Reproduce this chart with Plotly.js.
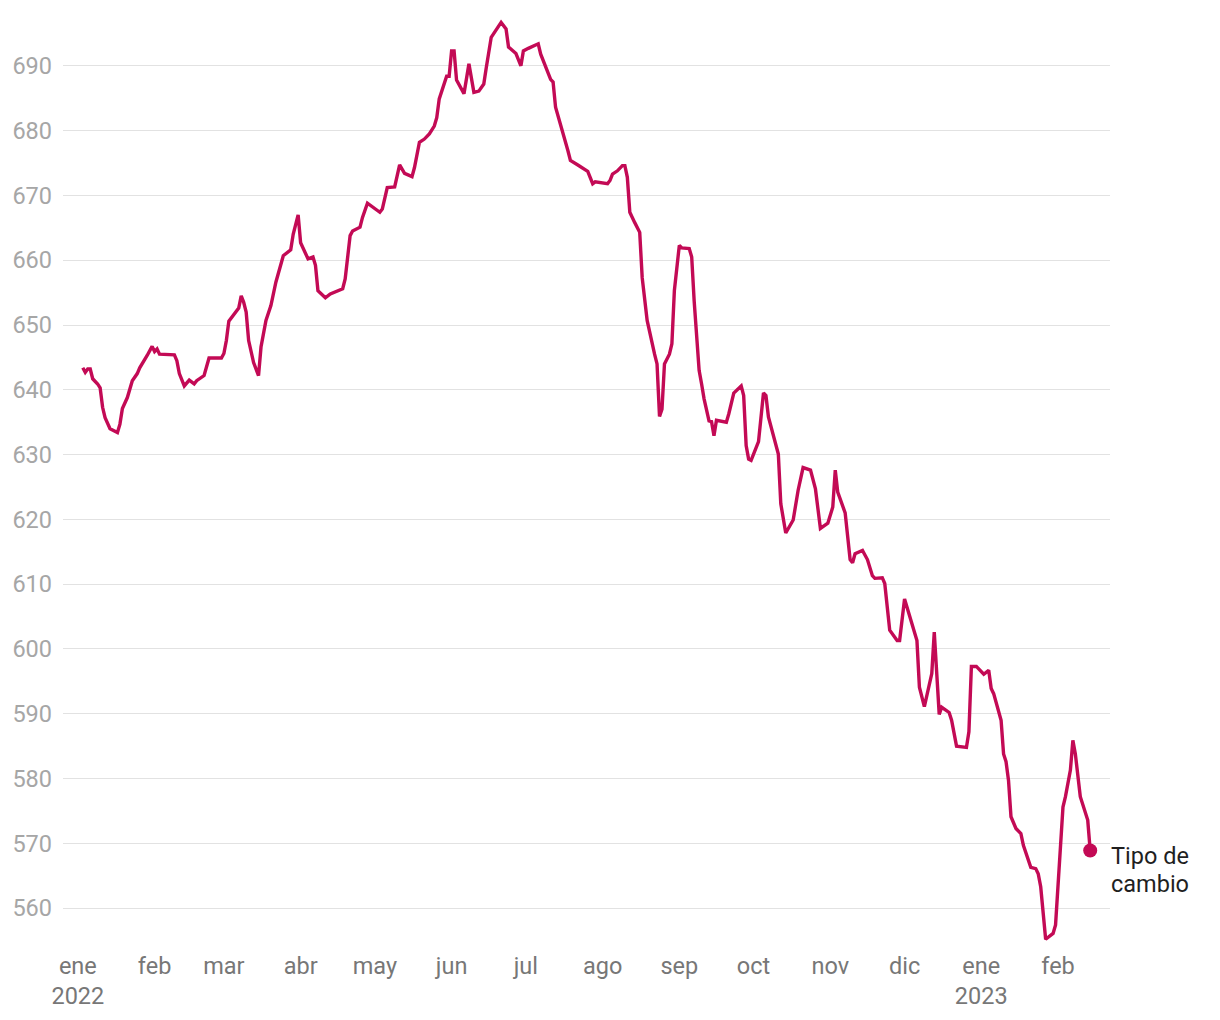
<!DOCTYPE html>
<html>
<head>
<meta charset="utf-8">
<script src="https://cdn.plot.ly/plotly-3.0.1.min.js"></script>
<style>
  html, body { margin: 0; padding: 0; background: #ffffff; }
  #chart { width: 1220px; height: 1020px; }
</style>
</head>
<body>
<div id="chart"></div>
<script>
// Fechas de la serie (tipo de cambio)
const fechas = [
  "2022-01-03","2022-01-04","2022-01-05","2022-01-06","2022-01-07","2022-01-09","2022-01-10","2022-01-11","2022-01-12","2022-01-14",
  "2022-01-17","2022-01-18","2022-01-19","2022-01-21","2022-01-23","2022-01-25","2022-01-26","2022-01-27","2022-01-29","2022-01-31",
  "2022-02-01","2022-02-02","2022-02-03","2022-02-09","2022-02-10","2022-02-11","2022-02-13","2022-02-15","2022-02-17","2022-02-18",
  "2022-02-21","2022-02-23","2022-02-28","2022-03-01","2022-03-02","2022-03-03","2022-03-05","2022-03-07","2022-03-08","2022-03-09",
  "2022-03-10","2022-03-11","2022-03-13","2022-03-15","2022-03-16","2022-03-18","2022-03-20","2022-03-22","2022-03-25","2022-03-28",
  "2022-03-29","2022-03-31","2022-04-01","2022-04-04","2022-04-06","2022-04-07","2022-04-08","2022-04-11","2022-04-13","2022-04-18",
  "2022-04-19","2022-04-21","2022-04-22","2022-04-25","2022-04-26","2022-04-28","2022-05-03","2022-05-04","2022-05-06","2022-05-09",
  "2022-05-11","2022-05-13","2022-05-16","2022-05-17","2022-05-19","2022-05-21","2022-05-23","2022-05-25","2022-05-26","2022-05-27",
  "2022-05-30","2022-05-31","2022-06-01","2022-06-02","2022-06-03","2022-06-06","2022-06-08","2022-06-10","2022-06-12","2022-06-14",
  "2022-06-15","2022-06-17","2022-06-21","2022-06-23","2022-06-24","2022-06-27","2022-06-29","2022-06-30","2022-07-02","2022-07-06",
  "2022-07-07","2022-07-09","2022-07-11","2022-07-12","2022-07-13","2022-07-18","2022-07-19","2022-07-22","2022-07-26","2022-07-28",
  "2022-07-29","2022-08-03","2022-08-04","2022-08-05","2022-08-07","2022-08-09","2022-08-10","2022-08-11","2022-08-12","2022-08-14",
  "2022-08-16","2022-08-17","2022-08-19","2022-08-22","2022-08-23","2022-08-24","2022-08-25","2022-08-26","2022-08-28","2022-08-29",
  "2022-08-30","2022-09-01","2022-09-02","2022-09-05","2022-09-06","2022-09-07","2022-09-09","2022-09-10","2022-09-11","2022-09-13",
  "2022-09-14","2022-09-15","2022-09-16","2022-09-20","2022-09-21","2022-09-23","2022-09-26","2022-09-27","2022-09-28","2022-09-29",
  "2022-09-30","2022-10-03","2022-10-05","2022-10-06","2022-10-07","2022-10-11","2022-10-12","2022-10-14","2022-10-17","2022-10-19",
  "2022-10-21","2022-10-24","2022-10-26","2022-10-28","2022-10-31","2022-11-02","2022-11-03","2022-11-04","2022-11-07","2022-11-09",
  "2022-11-10","2022-11-11","2022-11-14","2022-11-16","2022-11-18","2022-11-19","2022-11-22","2022-11-23","2022-11-25","2022-11-28",
  "2022-11-29","2022-12-01","2022-12-06","2022-12-07","2022-12-09","2022-12-12","2022-12-13","2022-12-15","2022-12-16","2022-12-19",
  "2022-12-20","2022-12-22","2022-12-26","2022-12-27","2022-12-28","2022-12-30","2023-01-02","2023-01-04","2023-01-05","2023-01-06",
  "2023-01-09","2023-01-10","2023-01-11","2023-01-12","2023-01-13","2023-01-15","2023-01-17","2023-01-18","2023-01-20","2023-01-21",
  "2023-01-23","2023-01-24","2023-01-25","2023-01-27","2023-01-30","2023-01-31","2023-02-03","2023-02-04","2023-02-06","2023-02-07",
  "2023-02-08","2023-02-10","2023-02-13","2023-02-14"
];

// Valores del tipo de cambio
const tipoCambio = [
  643.4,642.7,643.2,643.2,641.7,640.9,640.3,637.3,635.7,634.0,
  633.4,634.7,637.1,638.8,641.4,642.5,643.4,644.0,645.3,646.7,
  645.9,646.3,645.5,645.4,644.5,642.5,640.6,641.5,640.9,641.4,
  642.2,644.9,644.9,645.6,647.6,650.6,651.7,652.6,654.5,653.5,
  652.0,647.6,644.2,642.2,646.6,650.7,653.0,656.6,660.7,661.6,
  664.0,667.0,662.7,660.2,660.5,659.2,655.3,654.2,654.8,655.6,
  657.1,663.8,664.5,665.1,666.6,668.8,667.4,667.9,671.2,671.3,
  674.7,673.4,672.9,674.3,678.2,678.7,679.5,680.7,682.0,684.9,
  688.4,688.4,692.3,692.3,687.8,685.7,690.3,685.9,686.1,687.2,
  689.7,694.4,696.7,695.7,692.9,691.9,690.0,692.3,692.7,693.4,
  691.8,690.0,687.9,687.5,683.6,676.9,675.4,674.7,673.7,671.8,
  672.1,671.8,672.3,673.3,673.8,674.6,674.6,672.8,667.4,665.8,
  664.3,657.3,650.7,645.5,644.0,635.9,637.0,644.0,645.5,647.1,
  655.3,662.3,661.9,661.8,660.5,653.7,643.0,640.9,638.6,635.2,
  635.1,632.9,635.3,635.0,636.3,639.5,640.6,639.1,631.4,629.3,
  629.1,632.0,639.5,639.1,635.8,630.1,622.4,617.9,619.9,624.5,
  628.0,627.6,624.7,618.6,619.4,621.9,627.6,624.2,621.0,613.8,
  613.3,614.7,615.2,613.8,611.3,610.9,611.0,610.1,602.9,601.3,
  601.3,607.7,601.3,594.1,591.1,596.2,602.6,589.9,591.0,590.2,
  589.0,585.0,584.8,587.2,597.3,597.3,596.1,596.7,593.9,593.1,
  589.0,583.8,582.6,579.7,574.1,572.3,571.5,569.7,567.4,566.3,
  566.1,565.3,563.3,555.2,556.1,557.4,575.6,577.2,581.3,585.9,
  583.8,577.2,573.6,568.9
];

// Marcas del eje X
const mesesTicks = [
  "2022-01-01","2022-02-01","2022-03-01","2022-04-01","2022-05-01","2022-06-01","2022-07-01",
  "2022-08-01","2022-09-01","2022-10-01","2022-11-01","2022-12-01","2023-01-01","2023-02-01"
];
const mesesEtiquetas = [
  "ene<br>2022","feb","mar","abr","may","jun","jul","ago","sep","oct","nov","dic","ene<br>2023","feb"
];
const yTicks = [560,570,580,590,600,610,620,630,640,650,660,670,680,690];
const serieNombre = ["Tipo de", "cambio"];

const color = "#c30a55";
const n = fechas.length;

const traces = [
  {
    type: "scatter", mode: "lines",
    x: fechas, y: tipoCambio,
    line: { color: color, width: 3.4, shape: "linear" },
    hoverinfo: "x+y", showlegend: false
  },
  {
    type: "scatter", mode: "markers",
    x: [fechas[n - 1]], y: [tipoCambio[n - 1]],
    marker: { color: color, size: 14 },
    hoverinfo: "skip", showlegend: false, cliponaxis: false
  }
];

const annotations = serieNombre.map((linea, i) => ({
  x: fechas[n - 1], y: tipoCambio[n - 1],
  xref: "x", yref: "y",
  text: linea, showarrow: false,
  xanchor: "left", yanchor: "middle", align: "left",
  xshift: 19, yshift: -6 - 28 * i,
  font: { size: 23.5, color: "#1f1f1f", family: "Roboto, sans-serif" }
}));

const layout = {
  width: 1220, height: 1020,
  margin: { l: 63, r: 110, t: 14, b: 73 },
  paper_bgcolor: "#ffffff", plot_bgcolor: "#ffffff",
  font: { family: "Roboto, 'Open Sans', sans-serif", color: "#777777" },
  showlegend: false,
  xaxis: {
    type: "date",
    range: ["2021-12-26", "2023-02-22"],
    tickmode: "array", tickvals: mesesTicks, ticktext: mesesEtiquetas,
    showgrid: false, zeroline: false, showline: false,
    ticks: "", tickfont: { size: 23.5, color: "#777777" },
    ticklabelstandoff: 2,
    fixedrange: true
  },
  yaxis: {
    range: [554, 698],
    tickmode: "array", tickvals: yTicks,
    showgrid: true, gridcolor: "#e2e2e2", gridwidth: 1,
    zeroline: false, showline: false, ticks: "",
    tickfont: { size: 23.5, color: "#a6a6a6" },
    ticklabelstandoff: 10,
    fixedrange: true
  },
  annotations: annotations
};

Plotly.newPlot("chart", traces, layout, { displayModeBar: false, responsive: false });
</script>
</body>
</html>
